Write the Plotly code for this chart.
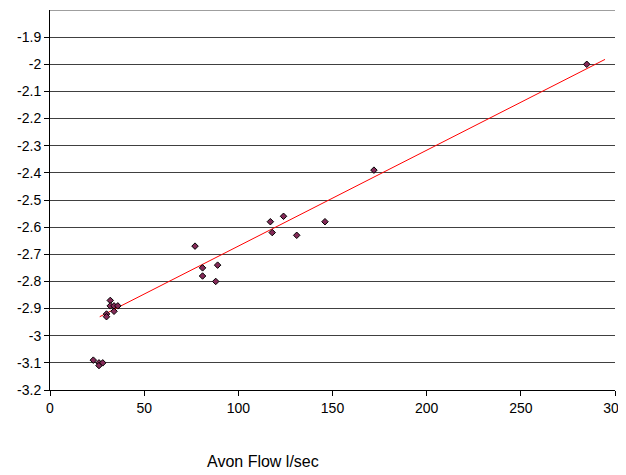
import plotly.graph_objects as go

flow = [23, 26, 26, 28, 32, 32, 34, 36, 34, 30, 30, 77, 81, 81, 89, 88, 117, 118, 124, 131, 146, 172, 285]
level = [-3.09, -3.10, -3.11, -3.10, -2.87, -2.89, -2.89, -2.89, -2.91, -2.92, -2.93,
         -2.67, -2.75, -2.78, -2.74, -2.80, -2.58, -2.62, -2.56, -2.63, -2.58, -2.39, -2.00]

trend_x = [26.4, 294.7]
trend_y = [-2.930, -1.982]

x_ticks = [0, 50, 100, 150, 200, 250, 300]
y_ticks = [-3.2, -3.1, -3.0, -2.9, -2.8, -2.7, -2.6, -2.5, -2.4, -2.3, -2.2, -2.1, -2.0, -1.9]
y_labels = ["-3.2", "-3.1", "-3", "-2.9", "-2.8", "-2.7", "-2.6", "-2.5", "-2.4", "-2.3", "-2.2", "-2.1", "-2", "-1.9"]

fig = go.Figure()
fig.add_trace(go.Scatter(x=trend_x, y=trend_y, mode="lines",
                         line=dict(color="#ff0000", width=1), hoverinfo="skip"))
fig.add_trace(go.Scatter(x=flow, y=level, mode="markers",
                         marker=dict(symbol="diamond", size=5, color="#842a58",
                                     line=dict(color="#000000", width=1))))

# page body has an 8px margin, so the figure is 8px smaller and left/top margins compensate
fig.update_layout(
    width=618, height=467,
    margin=dict(l=42, r=11, t=2, b=85),
    paper_bgcolor="white", plot_bgcolor="white",
    showlegend=False,
    font=dict(family="Liberation Sans, Arial, sans-serif", size=14, color="black"),
    xaxis=dict(range=[0, 300.001], tickvals=x_ticks, showgrid=False, zeroline=False,
               showline=True, linecolor="black", linewidth=1, automargin=False,
               ticklabeloverflow="allow",
               ticks="outside", ticklen=5, tickcolor="black"),
    yaxis=dict(range=[-3.2, -1.8], tickvals=y_ticks, ticktext=y_labels,
               showgrid=True, gridcolor="#404040", gridwidth=1, zeroline=False,
               showline=True, linecolor="black", linewidth=1, automargin=False,
               ticks="outside", ticklen=5, tickcolor="black"),
    shapes=[dict(type="line", xref="paper", yref="y", x0=0, x1=1, y0=-1.8, y1=-1.8,
                 line=dict(color="#404040", width=1))],
    annotations=[dict(text="Avon Flow l/sec", xref="paper", yref="paper",
                      x=(263 - 50) / 565, y=-(462 - 390) / 380, xanchor="center", yanchor="middle",
                      showarrow=False, font=dict(size=16))],
)

fig.write_html("out.html")
